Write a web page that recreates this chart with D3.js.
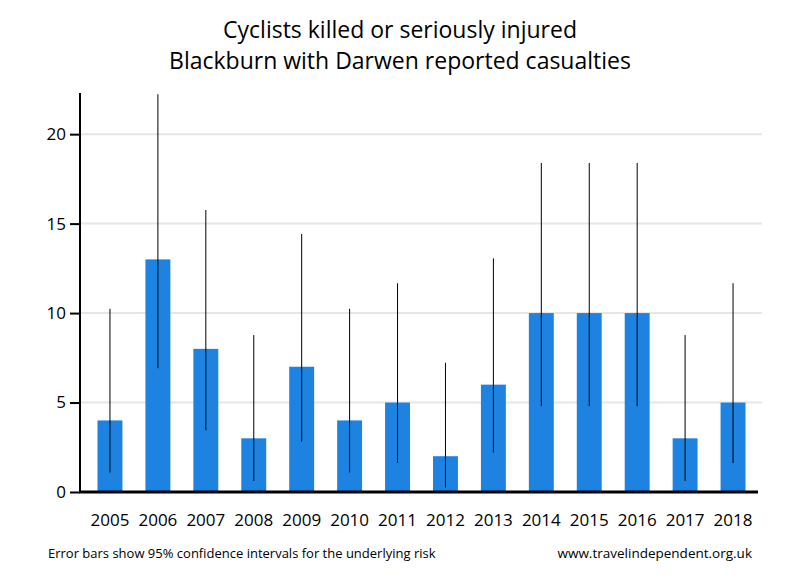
<!DOCTYPE html>
<html><head><meta charset="utf-8">
<script src="https://cdn.jsdelivr.net/npm/d3@7"></script>
<style>body{margin:0;background:#fff}svg text{font-family:"Open Sans","Noto Sans",sans-serif}</style>
</head><body><svg id="c" width="800" height="580"></svg>
<script>
const years = ["2005","2006","2007","2008","2009","2010","2011","2012","2013","2014","2015","2016","2017","2018"];
const casualties = [4,13,8,3,7,4,5,2,6,10,10,10,3,5];
const ciLow  = [1.09,6.92,3.45,0.62,2.81,1.09,1.62,0.24,2.20,4.80,4.80,4.80,0.62,1.62];
const ciHigh = [10.24,22.23,15.76,8.77,14.42,10.24,11.67,7.22,13.06,18.39,18.39,18.39,8.77,11.67];
const yTicks = [0,5,10,15,20];

const svg = d3.select("#c");
const x = d3.scaleBand().domain(years).range([86,757]).paddingInner(0.48).paddingOuter(0.24);
const y = d3.scaleLinear().domain([0,22.3]).range([492,93]);

svg.append("g").selectAll("line").data(yTicks.filter(d=>d>0)).join("line")
  .attr("x1",80).attr("x2",762).attr("y1",d=>y(d)).attr("y2",d=>y(d))
  .attr("stroke","#e6e6e6").attr("stroke-width",2);

svg.append("g").selectAll("rect").data(years).join("rect")
  .attr("x",d=>x(d)).attr("width",x.bandwidth())
  .attr("y",(d,i)=>y(casualties[i])).attr("height",(d,i)=>y(0)-y(casualties[i]))
  .attr("fill","#1e82e0");

svg.append("g").selectAll("line").data(years).join("line")
  .attr("x1",d=>x(d)+x.bandwidth()/2).attr("x2",d=>x(d)+x.bandwidth()/2)
  .attr("y1",(d,i)=>y(ciLow[i])).attr("y2",(d,i)=>y(Math.min(ciHigh[i],22.3)))
  .attr("stroke","#000").attr("stroke-width",1);

const ya = svg.append("g").attr("transform","translate(80,0)")
  .call(d3.axisLeft(y).tickValues(yTicks).tickSize(10).tickPadding(4).tickSizeOuter(0));
ya.select(".domain").attr("stroke-width",2).attr("d","M0,"+y(22.3)+"V"+y(0));
ya.selectAll(".tick line").attr("stroke-width",2);
ya.selectAll("text").attr("font-size",17).attr("fill","#000");

const xa = svg.append("g").attr("transform","translate(0,492)")
  .call(d3.axisBottom(x).tickSize(0).tickPadding(22).tickSizeOuter(0));
xa.select(".domain").attr("stroke-width",3).attr("d","M79,0H758");
xa.selectAll("text").attr("font-size",17).attr("fill","#000");

svg.append("text").attr("x",400).attr("y",38).attr("text-anchor","middle").attr("font-size",23).text("Cyclists killed or seriously injured");
svg.append("text").attr("x",400).attr("y",69).attr("text-anchor","middle").attr("font-size",23).text("Blackburn with Darwen reported casualties");

svg.append("text").attr("x",48).attr("y",558).attr("font-size",13).text("Error bars show 95% confidence intervals for the underlying risk");
svg.append("text").attr("x",752).attr("y",558).attr("text-anchor","end").attr("font-size",13.5).text("www.travelindependent.org.uk");
</script></body></html>
